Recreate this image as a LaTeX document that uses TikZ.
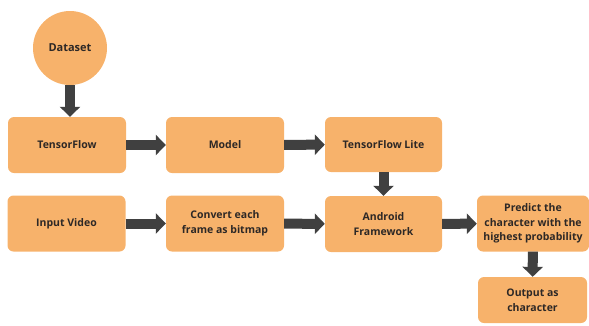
\documentclass[tikz,border=0pt]{standalone}
\usepackage{fontspec}
\setmainfont{Open Sans}
\usetikzlibrary{arrows.meta}
\definecolor{boxorange}{RGB}{247,178,107}
\definecolor{arrowgray}{RGB}{64,64,64}
\definecolor{textdark}{RGB}{45,40,38}
\begin{document}
\begin{tikzpicture}[x=1pt,y=-1pt,
	box/.style={fill=boxorange,draw=none,rounded corners=6pt,minimum width=118pt,minimum height=56pt,inner sep=0pt,align=center,text=textdark,font=\fontsize{10.5}{14.5}\selectfont\bfseries},
	blockarrow/.style={draw=arrowgray,line width=10pt,-{Triangle[length=10pt,width=20pt]},arrowgray}]
	\useasboundingbox (0,0) rectangle (589,325);
	\node[circle,fill=boxorange,minimum size=74pt,inner sep=0pt,text=textdark,font=\fontsize{11}{14}\selectfont\bfseries] (dataset) at (70,48) {Dataset};
	\node[box] (tf) at (67,145) {TensorFlow};
	\node[box] (model) at (225,145) {Model};
	\node[box,minimum width=117pt,minimum height=55pt] (tflite) at (383.5,144.5) {TensorFlow Lite};
	\node[box] (input) at (66.5,223.5) {Input Video};
	\node[box] (convert) at (225,223.5) {Convert each\\frame as bitmap};
	\node[box,minimum width=117pt] (android) at (383.5,224) {Android\\Framework};
	\node[box,minimum width=112pt] (predict) at (533,223.5) {Predict the\\character with the\\highest probability};
	\node[box,minimum width=109pt,minimum height=46pt] (output) at (532.5,300) {Output as\\character};
	% arrows
	\draw[blockarrow] (dataset.south) -- (dataset.south |- tf.north);
	\draw[blockarrow] (tf) -- (model);
	\draw[blockarrow] (model) -- (tflite);
	\draw[blockarrow] (tflite) -- (android);
	\draw[blockarrow] (input) -- (convert);
	\draw[blockarrow] (convert) -- (android);
	\draw[blockarrow] (android) -- (predict);
	\draw[blockarrow] (predict) -- (output);
\end{tikzpicture}
\end{document}
